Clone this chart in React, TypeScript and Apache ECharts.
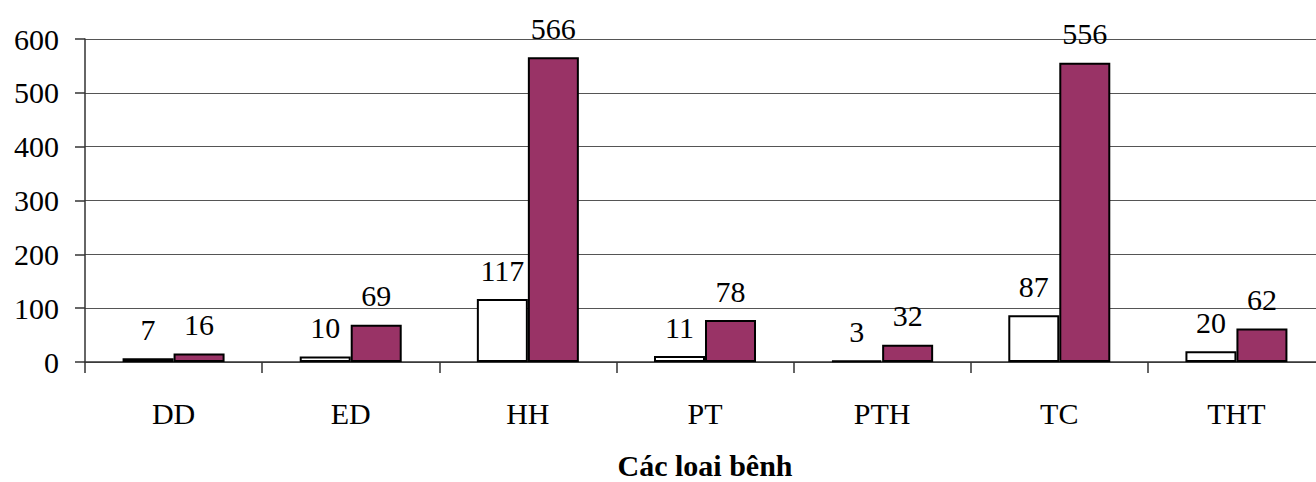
import React, { useEffect, useRef } from "react";
import * as echarts from "echarts";

const categories = ["DD", "ED", "HH", "PT", "PTH", "TC", "THT"];
const seriesA = [7, 10, 117, 11, 3, 87, 20];
const seriesB = [16, 69, 566, 78, 32, 556, 62];
const yTicks = { min: 0, max: 600, interval: 100 };
const axisTitle = "Các loai bênh";

const FONT = "Liberation Serif";

export default function App() {
  const ref = useRef<HTMLDivElement>(null);
  useEffect(() => {
    if (!ref.current) return;
    const chart = echarts.init(ref.current, null, { renderer: "svg" });
    const label = {
      show: true,
      position: "top",
      distance: 14,
      color: "#000",
      fontSize: 30,
      fontFamily: FONT,
    };
    chart.setOption({
      animation: false,
      textStyle: { fontFamily: FONT },
      grid: {
        left: 85,
        top: 39,
        width: 1240,
        height: 323,
        containLabel: false,
        outerBoundsMode: "none",
      },
      xAxis: {
        type: "category",
        data: categories,
        boundaryGap: true,
        axisLine: { show: true, lineStyle: { color: "#333", width: 1.5 } },
        axisTick: { show: true, length: 11, lineStyle: { color: "#333", width: 1.5 } },
        axisLabel: { color: "#000", fontSize: 30, fontFamily: FONT, margin: 36 },
        name: axisTitle,
        nameLocation: "middle",
        nameGap: 88,
        nameTextStyle: { color: "#000", fontSize: 30, fontWeight: "bold", fontFamily: FONT },
      },
      yAxis: {
        type: "value",
        min: yTicks.min,
        max: yTicks.max,
        interval: yTicks.interval,
        axisLine: { show: true, lineStyle: { color: "#333", width: 1.5 } },
        axisTick: { show: true, length: 10, lineStyle: { color: "#333", width: 1.5 } },
        axisLabel: { color: "#000", fontSize: 30, fontFamily: FONT, margin: 26, padding: [12, 0, 0, 0] },
        splitLine: { show: true, lineStyle: { color: "#555", width: 1.2 } },
      },
      series: [
        {
          type: "bar",
          name: "A",
          data: seriesA,
          barWidth: 51,
          barGap: "0%",
          itemStyle: { color: "#ffffff", borderColor: "#000", borderWidth: 2 },
          label,
        },
        {
          type: "bar",
          name: "B",
          data: seriesB,
          barWidth: 51,
          barGap: "0%",
          itemStyle: { color: "#993366", borderColor: "#000", borderWidth: 2 },
          label,
        },
      ],
    });
    return () => chart.dispose();
  }, []);
  return (
    <div
      ref={ref}
      style={{ position: "fixed", left: 0, top: 0, width: 1316, height: 482, background: "#fff" }}
    />
  );
}
